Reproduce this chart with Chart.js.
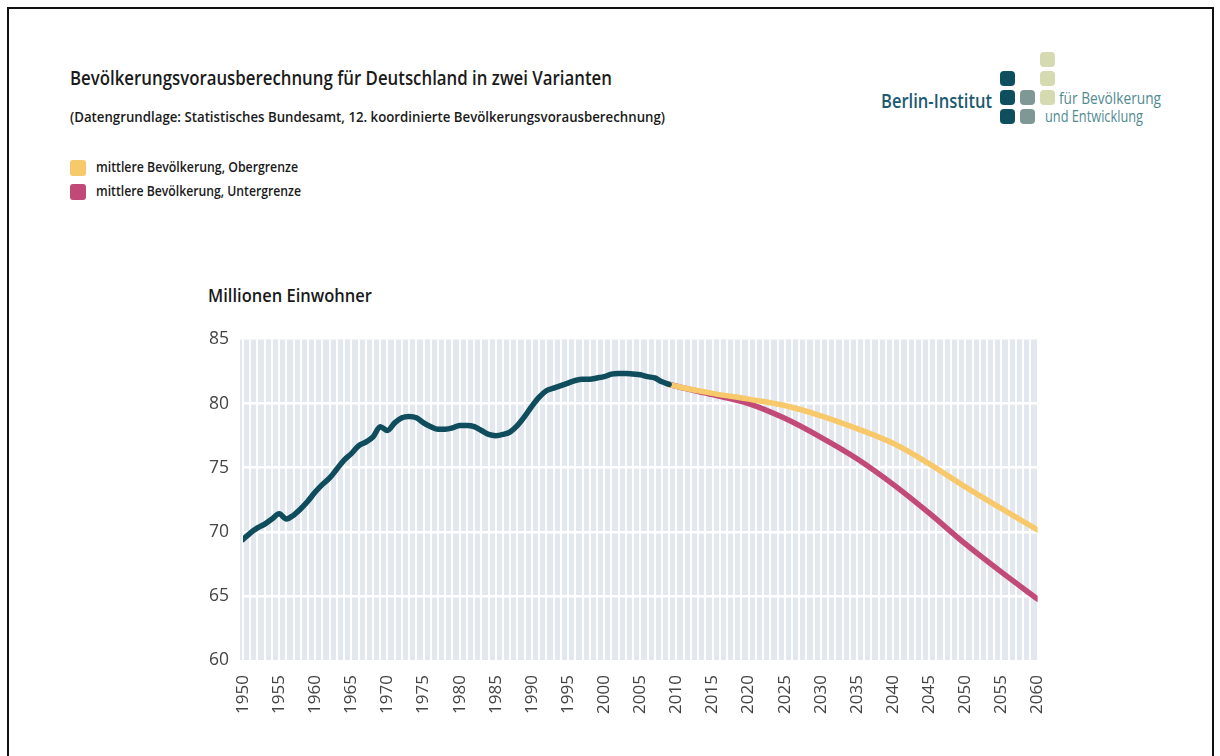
<!DOCTYPE html>
<html>
<head>
<meta charset="utf-8">
<script src="https://cdn.jsdelivr.net/npm/chart.js@4.4.1/dist/chart.umd.min.js"></script>
<style>
    body { margin: 0; background: #fff; width: 1220px; height: 756px; overflow: hidden; position: relative; }
    .frame { position: absolute; left: 7px; top: 7px; width: 1203px; height: 800px; border: 2px solid #111; }
    .txt { position: absolute; font-family: "Open Sans", sans-serif; color: #1a1a1a; white-space: nowrap; transform-origin: 0 50%; }
    .title { left: 70px; top: 65px; font-size: 19px; font-weight: 600; }
    .sub { left: 70px; top: 107px; font-size: 14.5px; font-weight: 600; }
    .leg { left: 96px; font-size: 14.5px; font-weight: 600; }
    .sw { position: absolute; left: 70px; width: 16px; height: 16px; border-radius: 3px; }
    .axistitle { left: 208px; top: 283px; font-size: 17.5px; font-weight: 600; }
    .sq { position: absolute; width: 15px; height: 15px; border-radius: 4px; }
    .logo1 { left: 881px; top: 87px; font-size: 20px; font-weight: 600; color: #1d5a70; }
    .logo2 { font-size: 16px; color: #4f8a90; font-weight: normal; }
    #wrap { position: absolute; left: 160px; top: 315px; width: 913px; height: 420px; }
</style>
</head>
<body>
<div class="frame"></div>

<div class="txt title" data-w="542">Bevölkerungsvorausberechnung für Deutschland in zwei Varianten</div>
<div class="txt sub" data-w="595">(Datengrundlage: Statistisches Bundesamt, 12. koordinierte Bevölkerungsvorausberechnung)</div>

<div class="sw" style="top:160px; background:#f8c96a;"></div>
<div class="txt leg" style="top:157px;" data-w="202">mittlere Bevölkerung, Obergrenze</div>
<div class="sw" style="top:184px; background:#c24a78;"></div>
<div class="txt leg" style="top:181px;" data-w="205">mittlere Bevölkerung, Untergrenze</div>

<!-- logo -->
<div class="txt logo1" data-w="111">Berlin-Institut</div>
<div class="sq" style="left:1040px; top:52px; background:#d5dab0;"></div>
<div class="sq" style="left:1000px; top:71px; background:#0f4e5e;"></div>
<div class="sq" style="left:1040px; top:71px; background:#d5dab0;"></div>
<div class="sq" style="left:1000px; top:90px; background:#0f4e5e;"></div>
<div class="sq" style="left:1020px; top:90px; background:#7f9896;"></div>
<div class="sq" style="left:1040px; top:90px; background:#d5dab0;"></div>
<div class="sq" style="left:1000px; top:109px; background:#0f4e5e;"></div>
<div class="sq" style="left:1020px; top:109px; background:#7f9896;"></div>
<div class="txt logo2" style="left:1059px; top:87px;" data-w="102">für Bevölkerung</div>
<div class="txt logo2" style="left:1045px; top:105px;" data-w="98">und Entwicklung</div>

<div class="txt axistitle" data-w="164">Millionen Einwohner</div>

<div id="wrap"><canvas id="chart"></canvas></div>

<script>
// Bevölkerung Deutschland, Millionen Einwohner
const histYears = [1950, 1951, 1952, 1953, 1954, 1955, 1956, 1957, 1958, 1959,
    1960, 1961, 1962, 1963, 1964, 1965, 1966, 1967, 1968, 1969,
    1970, 1971, 1972, 1973, 1974, 1975, 1976, 1977, 1978, 1979,
    1980, 1981, 1982, 1983, 1984, 1985, 1986, 1987, 1988, 1989,
    1990, 1991, 1992, 1993, 1994, 1995, 1996, 1997, 1998, 1999,
    2000, 2001, 2002, 2003, 2004, 2005, 2006, 2007, 2008, 2009];
const histValues = [69.4, 69.9, 70.3, 70.6, 71.0, 71.4, 71.0, 71.3, 71.8, 72.4,
    73.1, 73.7, 74.2, 74.9, 75.6, 76.1, 76.7, 77.0, 77.4, 78.2,
    77.9, 78.5, 78.9, 79.0, 78.9, 78.5, 78.2, 78.0, 78.0, 78.1,
    78.3, 78.3, 78.2, 77.9, 77.6, 77.5, 77.6, 77.8, 78.3, 79.0,
    79.8, 80.5, 81.0, 81.2, 81.4, 81.6, 81.8, 81.9, 81.9, 82.0,
    82.1, 82.3, 82.35, 82.35, 82.3, 82.25, 82.1, 82.0, 81.7, 81.5];

const obenYears = [2009, 2010, 2015, 2020, 2025, 2030, 2035, 2040, 2045, 2050, 2055, 2060];
const obenValues = [81.5, 81.35, 80.8, 80.35, 79.85, 79.05, 78.05, 76.9, 75.3, 73.5, 71.8, 70.15];

const untenYears = [2009, 2010, 2015, 2020, 2025, 2030, 2035, 2040, 2045, 2050, 2055, 2060];
const untenValues = [81.5, 81.35, 80.7, 80.0, 78.85, 77.37, 75.7, 73.7, 71.45, 69.05, 66.85, 64.75];

const yTicks = [60, 65, 70, 75, 80, 85];

const toPoints = (xs, ys) => xs.map((x, i) => ({ x: x, y: ys[i] }));

// squeeze the condensed-looking texts to their widths in the original
document.querySelectorAll('[data-w]').forEach(el => {
    const w = el.getBoundingClientRect().width;
    el.style.transform = 'scaleX(' + (parseFloat(el.dataset.w) / w) + ')';
});

const plotBg = {
    id: 'plotBg',
    beforeDraw(chart) {
        const a = chart.chartArea;
        const c = chart.ctx;
        c.save();
        c.fillStyle = '#e3e8ee';
        c.fillRect(a.left - 3, a.top, a.right - a.left + 4, a.bottom - a.top);
        c.restore();
    }
};

new Chart(document.getElementById('chart'), {
    type: 'line',
    data: {
        datasets: [
            {
                label: 'Bevölkerung',
                data: toPoints(histYears, histValues),
                borderColor: '#0f4c5c',
                borderWidth: 5.5,
                order: 0
            },
            {
                label: 'mittlere Bevölkerung, Obergrenze',
                data: toPoints(obenYears, obenValues),
                borderColor: '#f8c96a',
                borderWidth: 5.5,
                order: 1
            },
            {
                label: 'mittlere Bevölkerung, Untergrenze',
                data: toPoints(untenYears, untenValues),
                borderColor: '#c24a78',
                borderWidth: 5.5,
                order: 2
            }
        ]
    },
    options: {
        responsive: true,
        maintainAspectRatio: false,
        animation: false,
        layout: { padding: { top: 20, right: 23, left: 0, bottom: 0 } },
        elements: {
            point: { radius: 0 },
            line: { tension: 0.4, cubicInterpolationMode: 'monotone', borderCapStyle: 'round', borderJoinStyle: 'round' }
        },
        plugins: {
            legend: { display: false },
            tooltip: { enabled: false }
        },
        scales: {
            x: {
                type: 'linear',
                min: 1950,
                max: 2060,
                border: { display: false },
                grid: { color: '#ffffff', lineWidth: 2, drawTicks: false },
                ticks: {
                    stepSize: 1,
                    autoSkip: false,
                    minRotation: 90,
                    maxRotation: 90,
                    padding: 15,
                    color: '#444',
                    font: { family: '"Open Sans", sans-serif', size: 17 },
                    callback: (v) => (v % 5 === 0 ? String(v) : '')
                },
                afterFit: (s) => { s.height = 75; }
            },
            y: {
                min: 60,
                max: 85,
                border: { display: false },
                afterBuildTicks: (s) => { s.ticks = yTicks.map(v => ({ value: v })); },
                grid: {
                    drawTicks: false,
                    lineWidth: 2.5,
                    color: (ctx) => (ctx.tick && (ctx.tick.value === 60 || ctx.tick.value === 85) ? 'rgba(0,0,0,0)' : '#ffffff')
                },
                ticks: {
                    padding: 14,
                    color: '#444',
                    font: { family: '"Open Sans", sans-serif', size: 17.5 }
                },
                afterFit: (s) => { s.width = 83; }
            }
        }
    },
    plugins: [plotBg]
});
</script>
</body>
</html>
